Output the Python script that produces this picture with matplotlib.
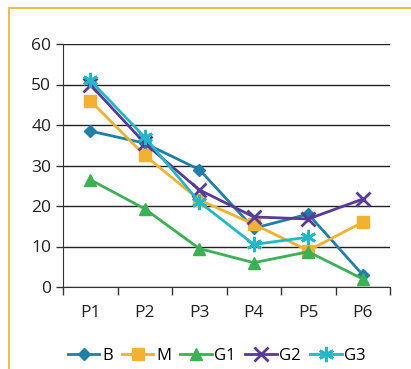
import matplotlib.pyplot as plt
import matplotlib.lines as mlines
import numpy as np

categories = ["P1", "P2", "P3", "P4", "P5", "P6"]
b_vals = [38.5, 35.5, 29, 14.5, 18, 3]
m_vals = [46, 32.5, 21.5, 15.5, 9, 16]
g1_vals = [26.5, 19.3, 9.5, 6, 8.7, 2]
g2_vals = [50, 35.5, 24, 17.3, 16.8, 21.7]
g3_vals = [51, 37, 21, 10.5, 12.3, np.nan]

series = [
    ("B", b_vals, "#1f7fa6", "D", 6),
    ("M", m_vals, "#f2b132", "s", 8),
    ("G1", g1_vals, "#3cb054", "^", 8),
    ("G2", g2_vals, "#5a3a98", "x", 10),
    ("G3", g3_vals, "#22b8c8", (6, 2, 0), 11),
]

plt.rcParams['font.family'] = ['Open Sans', 'DejaVu Sans']

fig = plt.figure(figsize=(4.11, 3.69), dpi=100)
ax = fig.add_axes([63 / 411, 1 - 287 / 369, 327 / 411, 243 / 369])

# gold frame lines on left and top
fig.add_artist(mlines.Line2D([9 / 411, 9 / 411], [0, 1 - 8 / 369],
                             color="#e8c04a", lw=1.5, transform=fig.transFigure))
fig.add_artist(mlines.Line2D([9 / 411, 1], [1 - 8 / 369, 1 - 8 / 369],
                             color="#e8c04a", lw=1.5, transform=fig.transFigure))

x = np.arange(len(categories))
for name, vals, color, marker, ms in series:
    mew = 2 if marker in ("x",) or isinstance(marker, tuple) else 1
    ax.plot(x, vals, color=color, lw=2, marker=marker, markersize=ms,
            markeredgewidth=mew, markeredgecolor=color, markerfacecolor=color, label=name)

ax.set_xlim(-0.5, len(categories) - 0.5)
ax.set_ylim(0, 60)
ax.set_yticks(range(0, 61, 10))
ax.yaxis.grid(True, color="#222222", lw=1)
ax.set_axisbelow(True)

ax.set_xticks(x)
ax.set_xticklabels(categories)
ax.set_xticks(np.arange(-0.5, len(categories)), minor=True)
ax.tick_params(axis="x", which="major", length=0, pad=13, labelsize=12.5, colors="#222222")
ax.tick_params(axis="x", which="minor", length=6, width=1, color="#333333")
ax.tick_params(axis="y", length=5, width=1, color="#333333", labelsize=12.5, labelcolor="#222222")

for side in ("top", "right"):
    ax.spines[side].set_visible(False)
ax.spines["left"].set_color("#333333")
ax.spines["bottom"].set_color("#333333")

ax.legend(loc="center", bbox_to_anchor=(0.47, -0.285), ncol=5, frameon=False,
          handlelength=1.9, handletextpad=0.15, columnspacing=0.55, fontsize=12)

fig.savefig("out.png", dpi=100)
